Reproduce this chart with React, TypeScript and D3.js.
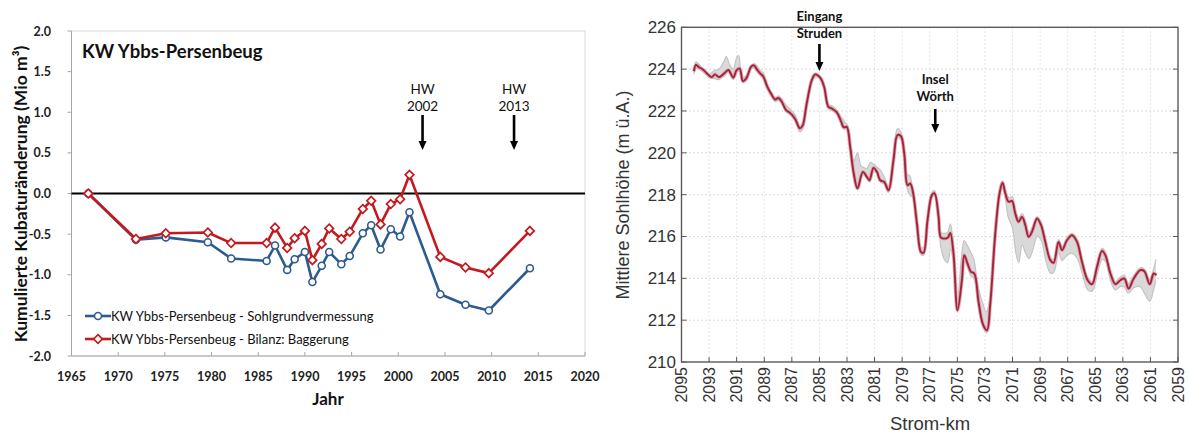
import React from "react";
import * as d3 from "d3";

// ---------- Left chart data ----------
const years = [1966.8, 1971.9, 1975.1, 1979.6, 1982.1, 1985.9, 1986.8, 1988.1, 1988.9, 1990.0, 1990.8, 1991.8, 1992.6, 1993.9, 1994.8, 1996.2, 1997.1, 1998.1, 1999.2, 2000.2, 2001.2, 2004.5, 2007.2, 2009.7, 2014.1];
const sohlValues = [0, -0.57, -0.54, -0.6, -0.8, -0.83, -0.64, -0.94, -0.81, -0.72, -1.09, -0.89, -0.72, -0.87, -0.77, -0.49, -0.39, -0.69, -0.44, -0.53, -0.23, -1.24, -1.37, -1.44, -0.92];
const bilanzValues = [0, -0.56, -0.49, -0.48, -0.61, -0.61, -0.42, -0.67, -0.55, -0.46, -0.82, -0.62, -0.43, -0.56, -0.47, -0.19, -0.09, -0.38, -0.13, -0.07, 0.23, -0.78, -0.91, -0.98, -0.46];
const yearTicks = [1965, 1970, 1975, 1980, 1985, 1990, 1995, 2000, 2005, 2010, 2015, 2020];
const volTicks = [-2, -1.5, -1, -0.5, 0, 0.5, 1, 1.5, 2];
const hwEvents = [{ year: 2002.6, label: "2002" }, { year: 2012.4, label: "2013" }];
const seriesNames = ["KW Ybbs-Persenbeug - Sohlgrundvermessung", "KW Ybbs-Persenbeug - Bilanz: Baggerung"];

// ---------- Right chart data ----------
const redProfile: [number, number][] = [
  [2094.1, 223.9], [2093.95, 224.2], [2093.75, 224.1], [2093.45, 223.98], [2093.0, 223.7], [2092.8, 223.62], [2092.57, 223.75], [2092.28, 223.62], [2091.85, 223.83], [2091.6, 223.96], [2091.25, 223.6], [2091.0, 223.95], [2090.78, 224.03], [2090.55, 223.43], [2090.3, 223.56], [2089.95, 224.12], [2089.75, 224.18], [2089.5, 223.96], [2089.3, 223.8], [2089.06, 223.64], [2088.78, 223.16], [2088.45, 222.76], [2088.22, 222.55], [2087.98, 222.62], [2087.73, 222.44], [2087.42, 222.04], [2087.13, 221.91], [2086.76, 221.62], [2086.42, 221.17], [2086.22, 221.3], [2085.92, 222.36], [2085.55, 223.48], [2085.3, 223.75], [2084.95, 223.6], [2084.66, 223.16], [2084.35, 222.2], [2084.1, 222.12], [2083.74, 221.93], [2083.4, 221.45], [2083.25, 221.22], [2083.02, 221.24], [2082.77, 220.29], [2082.53, 219.09], [2082.24, 218.3], [2081.85, 219.09], [2081.56, 218.85], [2081.37, 218.69], [2081.08, 219.28], [2080.83, 219.09], [2080.59, 218.69], [2080.3, 218.61], [2079.99, 218.21], [2079.63, 219.65], [2079.34, 220.85], [2079.09, 220.8], [2078.85, 219.97], [2078.61, 218.45], [2078.42, 218.54], [2078.22, 218.13], [2077.93, 216.62], [2077.64, 215.26], [2077.45, 215.22], [2077.16, 216.78], [2076.84, 217.98], [2076.65, 218.06], [2076.36, 216.94], [2076.19, 215.95], [2075.88, 215.9], [2075.68, 215.95], [2075.51, 216.17], [2075.28, 215.19], [2074.99, 212.47], [2074.67, 213.91], [2074.5, 215.11], [2074.26, 214.71], [2074.01, 214.31], [2073.77, 214.23], [2073.46, 212.87], [2073.14, 211.8], [2072.85, 211.52], [2072.61, 212.8], [2072.25, 216.14], [2071.94, 218.06], [2071.72, 218.57], [2071.52, 218.06], [2071.28, 217.66], [2071.04, 217.7], [2070.8, 217.1], [2070.56, 216.7], [2070.31, 216.94], [2070.07, 216.54], [2069.83, 215.98], [2069.59, 216.22], [2069.22, 216.86], [2068.93, 216.54], [2068.62, 215.74], [2068.26, 214.87], [2068.02, 214.74], [2067.66, 215.74], [2067.41, 215.34], [2067.05, 215.82], [2066.68, 216.06], [2066.32, 215.74], [2065.96, 214.78], [2065.55, 213.91], [2065.23, 213.72], [2064.87, 214.55], [2064.51, 215.31], [2064.27, 215.11], [2063.9, 214.23], [2063.54, 213.72], [2063.18, 213.91], [2062.89, 213.99], [2062.58, 213.51], [2062.21, 213.99], [2061.73, 214.39], [2061.44, 214.34], [2061.05, 213.72], [2060.76, 214.23], [2060.57, 214.15],
];
const grayHigh: [number, number][] = [
  [2094.1, 224.0], [2093.95, 224.35], [2093.5, 224.05], [2093.0, 223.75], [2092.6, 223.95], [2092.3, 224.0], [2091.9, 224.4], [2091.75, 224.6], [2091.5, 224.2], [2091.25, 224.0], [2091.0, 224.55], [2090.85, 224.65], [2090.6, 223.6], [2090.3, 223.7], [2089.9, 224.2], [2089.7, 224.25], [2089.3, 223.95], [2089.05, 223.8], [2088.8, 223.3], [2088.45, 222.85], [2088.2, 222.65], [2087.95, 222.72], [2087.7, 222.55], [2087.4, 222.25], [2087.1, 222.08], [2086.75, 221.8], [2086.42, 221.3], [2086.2, 221.45], [2085.9, 222.45], [2085.55, 223.55], [2085.3, 223.8], [2084.95, 223.65], [2084.65, 223.25], [2084.35, 222.3], [2084.1, 222.25], [2083.75, 222.05], [2083.4, 221.7], [2083.15, 221.45], [2082.95, 221.3], [2082.75, 220.6], [2082.5, 219.6], [2082.25, 220.0], [2082.0, 219.4], [2081.8, 219.3], [2081.55, 219.25], [2081.3, 219.55], [2081.05, 219.45], [2080.8, 219.3], [2080.6, 219.2], [2080.3, 218.85], [2080.0, 218.4], [2079.65, 219.8], [2079.35, 221.15], [2079.1, 221.0], [2078.85, 220.2], [2078.65, 219.0], [2078.45, 218.9], [2078.25, 218.3], [2077.95, 216.8], [2077.65, 215.5], [2077.45, 215.45], [2077.15, 216.9], [2076.85, 218.1], [2076.65, 218.2], [2076.35, 217.1], [2076.2, 216.2], [2075.9, 216.15], [2075.7, 216.2], [2075.5, 216.6], [2075.3, 215.6], [2075.0, 212.9], [2074.7, 215.0], [2074.5, 215.8], [2074.3, 215.6], [2074.0, 215.2], [2073.8, 214.9], [2073.5, 213.6], [2073.2, 212.9], [2072.9, 212.4], [2072.6, 213.2], [2072.25, 216.3], [2071.95, 218.2], [2071.72, 218.65], [2071.5, 218.2], [2071.25, 217.85], [2071.0, 217.9], [2070.8, 217.3], [2070.55, 216.9], [2070.3, 217.1], [2070.05, 216.75], [2069.8, 216.2], [2069.6, 216.4], [2069.2, 216.95], [2068.9, 216.65], [2068.6, 215.9], [2068.25, 215.0], [2068.0, 214.9], [2067.65, 215.85], [2067.4, 215.5], [2067.05, 215.95], [2066.7, 216.15], [2066.3, 215.85], [2065.95, 214.95], [2065.55, 214.05], [2065.2, 213.85], [2064.85, 214.7], [2064.5, 215.45], [2064.25, 215.25], [2063.9, 214.4], [2063.55, 213.85], [2063.2, 214.05], [2062.9, 214.15], [2062.6, 213.75], [2062.2, 214.15], [2061.75, 214.5], [2061.45, 214.45], [2061.05, 213.95], [2060.75, 214.5], [2060.6, 214.9],
];
const grayLow: [number, number][] = [
  [2094.1, 223.75], [2093.95, 224.05], [2093.5, 223.9], [2093.0, 223.6], [2092.6, 223.55], [2092.3, 223.5], [2091.85, 223.7], [2091.6, 223.85], [2091.25, 223.5], [2091.0, 223.85], [2090.8, 223.9], [2090.55, 223.35], [2090.3, 223.45], [2089.95, 224.0], [2089.75, 224.05], [2089.5, 223.85], [2089.05, 223.5], [2088.8, 223.05], [2088.45, 222.65], [2088.2, 222.45], [2087.95, 222.5], [2087.7, 222.35], [2087.4, 221.95], [2087.1, 221.8], [2086.75, 221.5], [2086.42, 221.0], [2086.2, 221.15], [2085.9, 222.25], [2085.55, 223.35], [2085.3, 223.62], [2084.95, 223.5], [2084.65, 223.05], [2084.35, 222.1], [2084.1, 222.02], [2083.75, 221.85], [2083.4, 221.35], [2083.2, 221.12], [2083.0, 221.15], [2082.75, 220.2], [2082.5, 219.0], [2082.25, 218.25], [2081.85, 218.95], [2081.55, 218.75], [2081.35, 218.6], [2081.05, 219.15], [2080.8, 218.95], [2080.55, 218.6], [2080.3, 218.5], [2080.0, 218.1], [2079.65, 219.55], [2079.35, 220.7], [2079.1, 220.65], [2078.85, 219.8], [2078.6, 218.2], [2078.4, 217.95], [2078.2, 217.85], [2077.95, 216.5], [2077.65, 215.15], [2077.45, 215.1], [2077.15, 216.65], [2076.85, 217.85], [2076.65, 217.95], [2076.35, 216.8], [2076.2, 215.5], [2075.9, 214.85], [2075.7, 214.75], [2075.5, 215.4], [2075.3, 214.9], [2075.0, 212.4], [2074.7, 213.7], [2074.5, 214.8], [2074.25, 214.5], [2074.0, 214.1], [2073.8, 214.0], [2073.5, 212.75], [2073.15, 211.65], [2072.85, 211.4], [2072.6, 212.65], [2072.25, 215.9], [2071.95, 217.9], [2071.72, 218.4], [2071.5, 217.7], [2071.3, 216.9], [2071.0, 216.4], [2070.75, 215.2], [2070.55, 214.75], [2070.3, 215.6], [2070.05, 215.2], [2069.8, 214.95], [2069.55, 215.3], [2069.2, 216.0], [2068.9, 215.8], [2068.6, 214.9], [2068.25, 214.25], [2068.0, 214.3], [2067.65, 215.2], [2067.4, 214.85], [2067.05, 215.1], [2066.7, 215.2], [2066.3, 214.95], [2065.95, 214.25], [2065.55, 213.45], [2065.2, 213.4], [2064.85, 214.2], [2064.5, 214.9], [2064.25, 214.8], [2063.9, 213.9], [2063.55, 213.45], [2063.2, 213.6], [2062.9, 213.6], [2062.6, 213.3], [2062.2, 213.55], [2061.75, 213.6], [2061.45, 213.3], [2061.05, 212.9], [2060.75, 213.5], [2060.6, 213.9],
];
const kmTicks = [2095, 2093, 2091, 2089, 2087, 2085, 2083, 2081, 2079, 2077, 2075, 2073, 2071, 2069, 2067, 2065, 2063, 2061, 2059];
const heightTicks = [210, 212, 214, 216, 218, 220, 222, 224, 226];
const rightNotes = [
  { km: 2085.0, lines: ["Eingang", "Struden"], textY: 21, arrowTop: 44, arrowBottom: 71 },
  { km: 2076.6, lines: ["Insel", "Wörth"], textY: 84, arrowTop: 109, arrowBottom: 133 },
];

const BLUE = "#2c5b8f";
const RED = "#c41a1f";
const CAL = "Lato, 'Open Sans', sans-serif";
const ARIAL = "'Liberation Sans', Arial, sans-serif";

function Arrow({ x, y0, y1 }: { x: number; y0: number; y1: number }) {
  return (
    <g>
      <line x1={x} x2={x} y1={y0} y2={y1 - 8} stroke="#000" strokeWidth={2.6} />
      <path d={`M${x - 4},${y1 - 9} L${x + 4},${y1 - 9} L${x},${y1} Z`} fill="#000" />
    </g>
  );
}

function LeftChart() {
  const x = d3.scaleLinear().domain([1965, 2020]).range([71.5, 585]);
  const y = d3.scaleLinear().domain([-2, 2]).range([356, 31]);
  const sohl = years.map((yr, i) => [yr, sohlValues[i]] as [number, number]);
  const bil = years.map((yr, i) => [yr, bilanzValues[i]] as [number, number]);
  const line = d3.line<[number, number]>().x((d) => x(d[0])).y((d) => y(d[1]));
  const diamond = (cx: number, cy: number, r = 4.3) => `M${cx},${cy - r} L${cx + r},${cy} L${cx},${cy + r} L${cx - r},${cy} Z`;
  return (
    <g>
      <rect x={x(1965)} y={y(2)} width={x(2020) - x(1965)} height={y(-2) - y(2)} fill="#fff" stroke="#d9d9d9" strokeWidth={1} />
      <line x1={x(1965)} x2={x(1965)} y1={y(2)} y2={y(-2)} stroke="#a6a6a6" strokeWidth={1} />
      <line x1={x(1965)} x2={x(2020)} y1={y(-2)} y2={y(-2)} stroke="#a6a6a6" strokeWidth={1} />
      {volTicks.map((t) => (
        <g key={t}>
          <line x1={x(1965) - 4} x2={x(1965)} y1={y(t)} y2={y(t)} stroke="#a6a6a6" />
          <text x={51} y={y(t) + 4.5} textAnchor="end" fontFamily={CAL} fontWeight={700} fontSize={12.5} fill="#222">
            {t.toFixed(1)}
          </text>
        </g>
      ))}
      {yearTicks.map((t) => (
        <g key={t}>
          <line x1={x(t)} x2={x(t)} y1={y(-2)} y2={y(-2) - 4} stroke="#a6a6a6" />
          <text x={x(t)} y={381} textAnchor="middle" fontFamily={CAL} fontWeight={700} fontSize={12.5} fill="#222">
            {t}
          </text>
        </g>
      ))}
      <line x1={x(1965)} x2={x(2020)} y1={y(0)} y2={y(0)} stroke="#000" strokeWidth={2.2} />
      <text x={82} y={58} fontFamily={CAL} fontWeight={700} fontSize={18.5} fill="#111">KW Ybbs-Persenbeug</text>
      {hwEvents.map((e) => (
        <g key={e.label}>
          <text x={x(e.year)} y={94} textAnchor="middle" fontFamily={CAL} fontSize={13.5} fill="#111">HW</text>
          <text x={x(e.year)} y={111} textAnchor="middle" fontFamily={CAL} fontSize={13.5} fill="#111">{e.label}</text>
          <Arrow x={x(e.year)} y0={115} y1={150} />
        </g>
      ))}
      <path d={line(sohl) || ""} fill="none" stroke={BLUE} strokeWidth={2.6} strokeLinejoin="round" />
      {sohl.map((d, i) => (
        <circle key={i} cx={x(d[0])} cy={y(d[1])} r={3.5} fill="#fff" stroke={BLUE} strokeWidth={1.6} />
      ))}
      <path d={line(bil) || ""} fill="none" stroke={RED} strokeWidth={2.6} strokeLinejoin="round" />
      {bil.map((d, i) => (
        <path key={i} d={diamond(x(d[0]), y(d[1]))} fill="#fff" stroke={RED} strokeWidth={1.7} />
      ))}
      {/* legend */}
      <line x1={85} x2={111} y1={316} y2={316} stroke={BLUE} strokeWidth={2.6} />
      <circle cx={98} cy={316} r={3.5} fill="#fff" stroke={BLUE} strokeWidth={1.6} />
      <text x={111} y={320.5} fontFamily={CAL} fontSize={13} fill="#111">{seriesNames[0]}</text>
      <line x1={85} x2={111} y1={339} y2={339} stroke={RED} strokeWidth={2.6} />
      <path d={diamond(98, 339)} fill="#fff" stroke={RED} strokeWidth={1.7} />
      <text x={111} y={343.5} fontFamily={CAL} fontSize={13} fill="#111">{seriesNames[1]}</text>
      <text transform={`translate(27,${(48 + 340) / 2}) rotate(-90)`} textAnchor="middle" fontFamily={CAL} fontWeight={700} fontSize={17.5} fill="#111">
        Kumulierte Kubaturänderung (Mio m³)
      </text>
      <text x={328} y={405} textAnchor="middle" fontFamily={CAL} fontWeight={700} fontSize={17} fill="#111">Jahr</text>
    </g>
  );
}

function RightChart() {
  const x = d3.scaleLinear().domain([2095, 2059]).range([681.5, 1178]);
  const y = d3.scaleLinear().domain([210, 226]).range([362, 27.3]);
  const line = d3.line<[number, number]>().x((d) => x(d[0])).y((d) => y(d[1])).curve(d3.curveCatmullRom.alpha(0.5));
  const hi = line(grayHigh) || "";
  const lo = line([...grayLow].reverse()) || "";
  const band = hi + "L" + lo.slice(1) + "Z";
  const [x0, x1] = x.range();
  const [yb, yt] = y.range();
  return (
    <g>
      {heightTicks.slice(1, -1).map((t) => (
        <line key={t} x1={x0} x2={x1} y1={y(t)} y2={y(t)} stroke="#cfcfcf" strokeWidth={1} strokeDasharray="1.5,2.5" />
      ))}
      {kmTicks.slice(1, -1).map((t) => (
        <line key={t} x1={x(t)} x2={x(t)} y1={yt} y2={yb} stroke="#dedede" strokeWidth={1} strokeDasharray="1.5,2.5" />
      ))}
      <path d={band} fill="#d9d9d9" stroke="none" />
      <path d={hi} fill="none" stroke="#c4c4c4" strokeWidth={1.2} />
      <path d={line(grayLow) || ""} fill="none" stroke="#c4c4c4" strokeWidth={1.2} />
      <path d={line(redProfile) || ""} fill="none" stroke="#dcaab2" strokeWidth={3.6} strokeLinejoin="round" />
      <path d={line(redProfile) || ""} fill="none" stroke="#a3243a" strokeWidth={1.9} strokeLinejoin="round" />
      <rect x={x0} y={yt} width={x1 - x0} height={yb - yt} fill="none" stroke="#5a5a5a" strokeWidth={1.4} />
      {heightTicks.map((t) => (
        <g key={t}>
          <line x1={x0} x2={x0 + 5} y1={y(t)} y2={y(t)} stroke="#5a5a5a" />
          <line x1={x1 - 5} x2={x1} y1={y(t)} y2={y(t)} stroke="#5a5a5a" />
          <text x={676} y={y(t) + 6} textAnchor="end" fontFamily={ARIAL} fontSize={17} fill="#333">{t}</text>
        </g>
      ))}
      {kmTicks.map((t) => (
        <g key={t}>
          <line x1={x(t)} x2={x(t)} y1={yb} y2={yb - 5} stroke="#5a5a5a" />
          <text transform={`translate(${x(t) + 5.5},${yb + 5}) rotate(-90)`} textAnchor="end" fontFamily={ARIAL} fontSize={16} fill="#333">
            {t}
          </text>
        </g>
      ))}
      {rightNotes.map((n) => (
        <g key={n.km}>
          {n.lines.map((l, i) => (
            <text key={l} x={x(n.km)} y={n.textY + i * 16.5} textAnchor="middle" fontFamily={CAL} fontWeight={700} fontSize={13} fill="#111">
              {l}
            </text>
          ))}
          <Arrow x={x(n.km)} y0={n.arrowTop} y1={n.arrowBottom} />
        </g>
      ))}
      <text transform={`translate(629,195) rotate(-90)`} textAnchor="middle" fontFamily={ARIAL} fontSize={18} fill="#333">
        Mittlere Sohlhöhe (m ü.A.)
      </text>
      <text x={930} y={430} textAnchor="middle" fontFamily={ARIAL} fontSize={18.5} fill="#333">Strom-km</text>
    </g>
  );
}

export default function App() {
  return (
    <svg width={1189} height={436} style={{ position: "absolute", left: 0, top: 0, background: "#fff" }}>
      <rect x={0} y={0} width={1189} height={436} fill="#fff" />
      <LeftChart />
      <RightChart />
    </svg>
  );
}
